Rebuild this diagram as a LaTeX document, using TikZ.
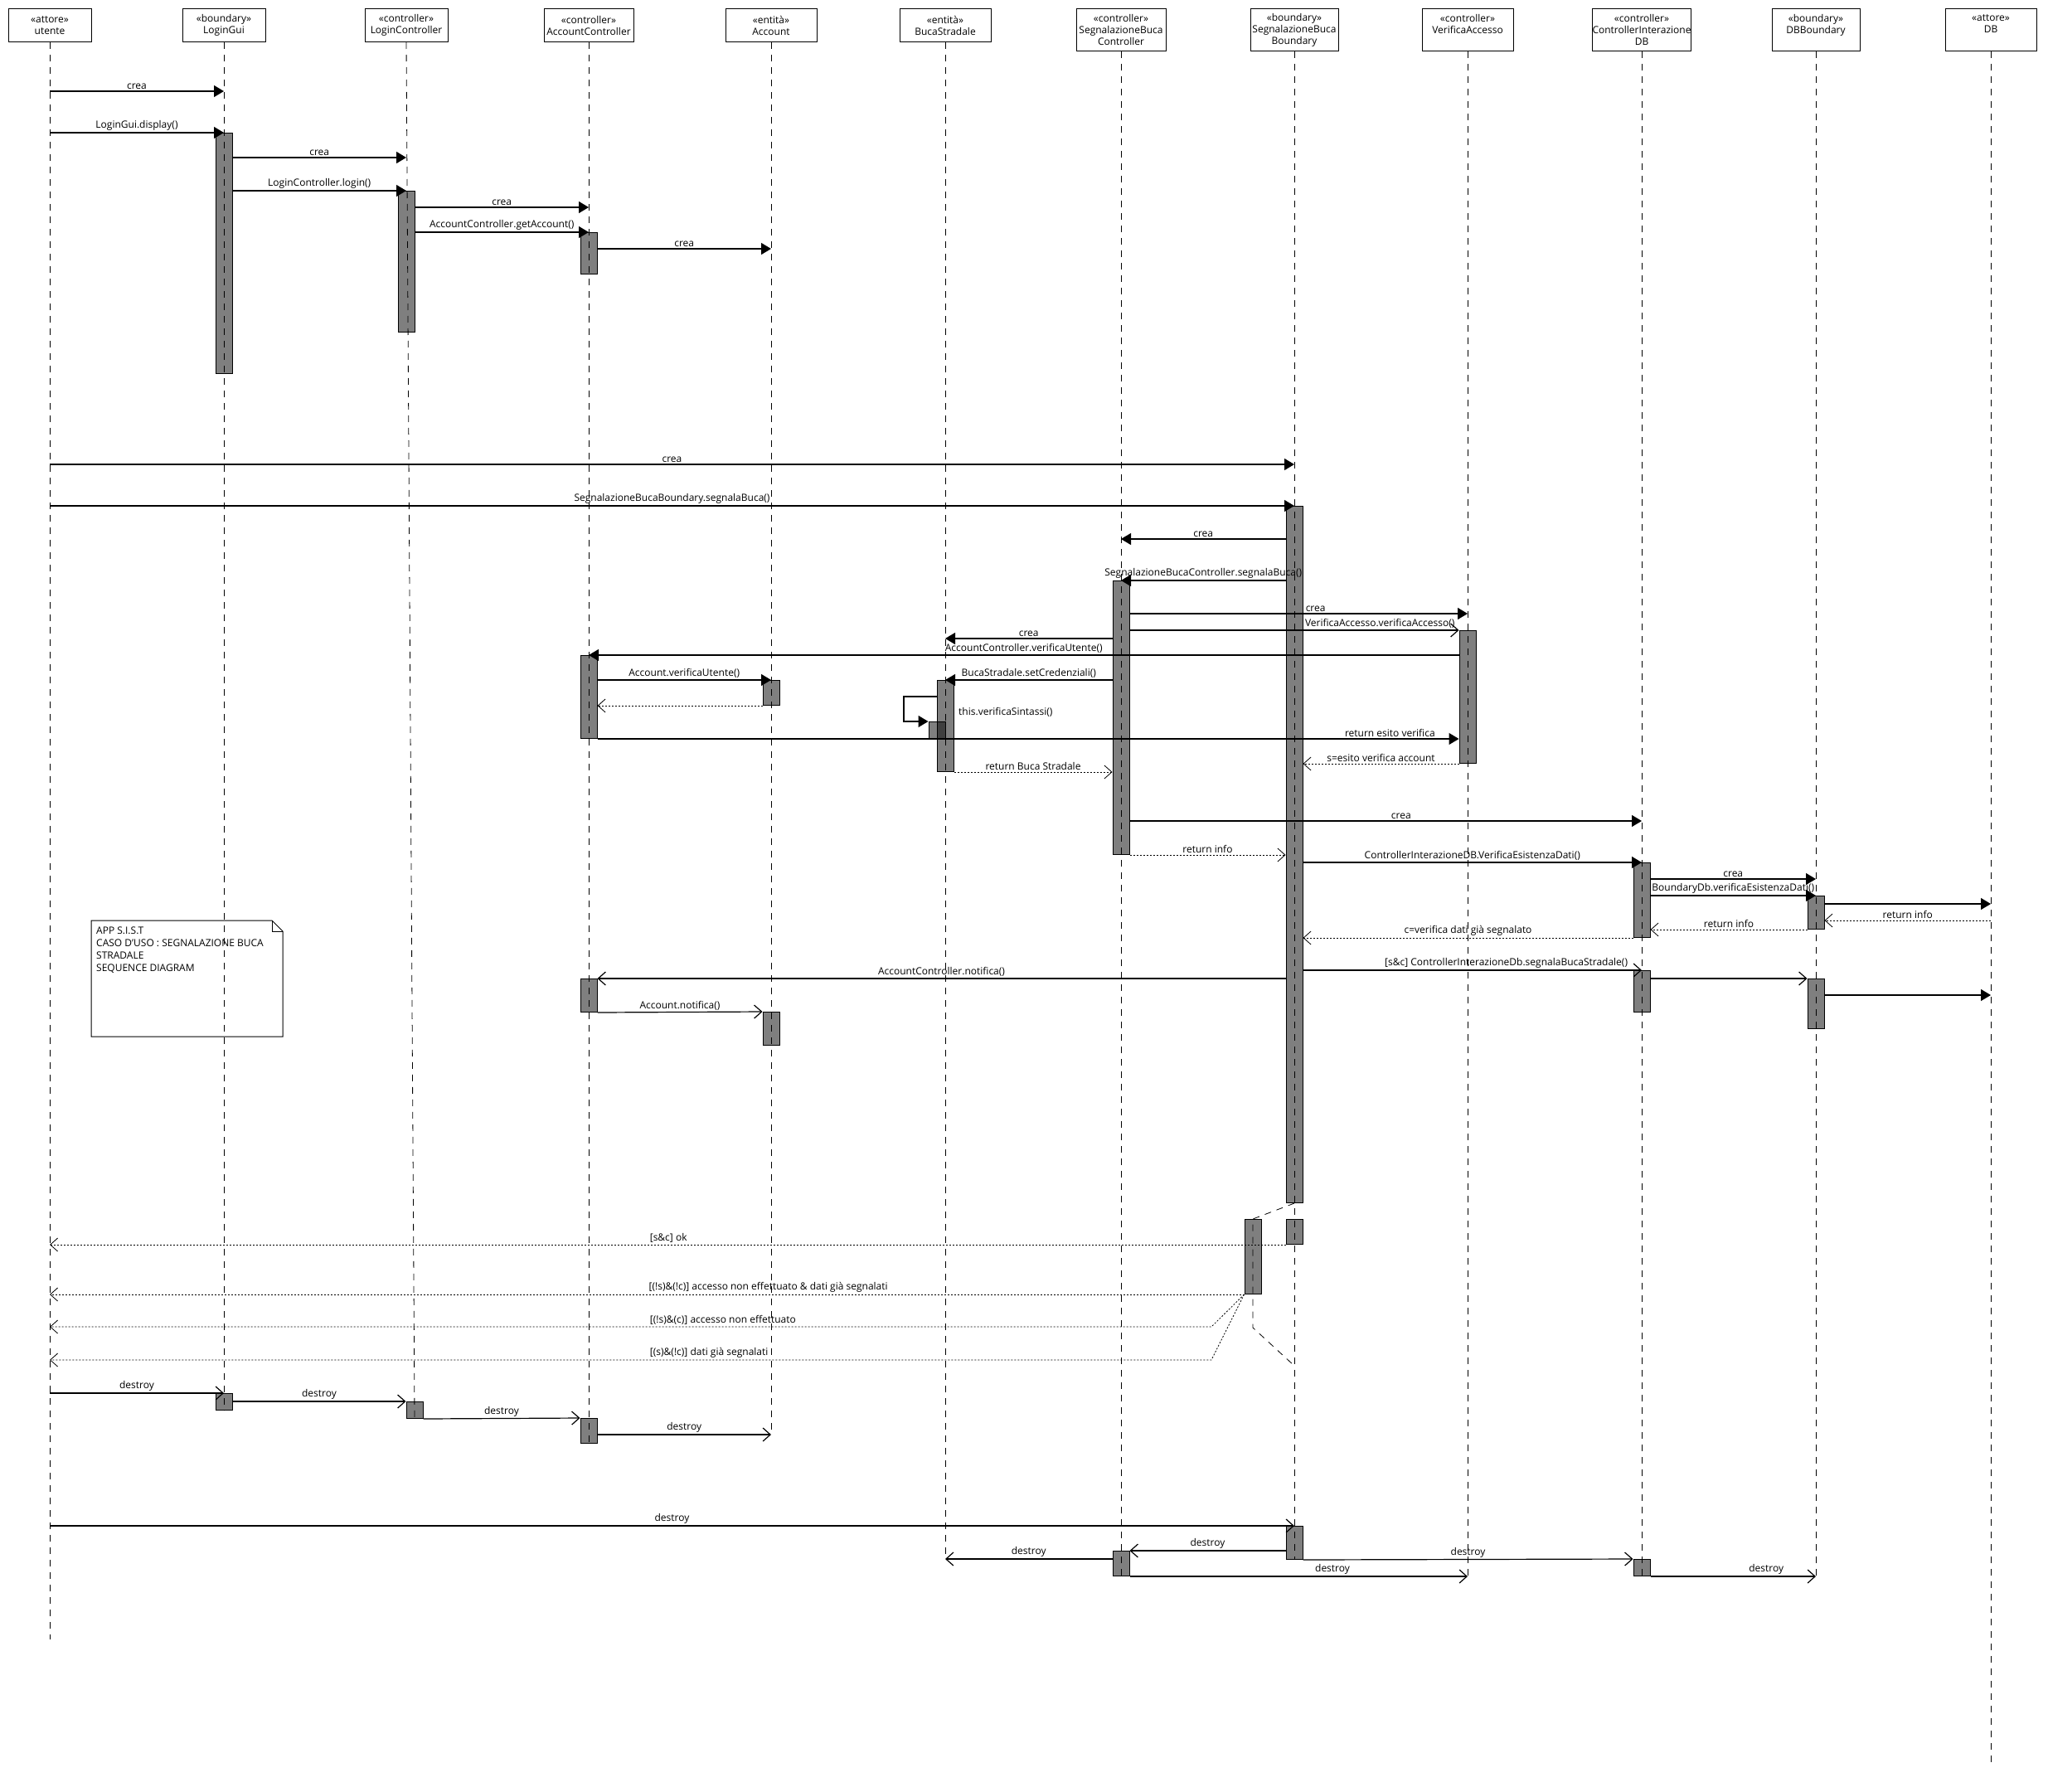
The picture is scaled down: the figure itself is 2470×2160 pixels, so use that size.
\documentclass[tikz,border=0pt]{standalone}
\usepackage{fontspec}
\setmainfont{Open Sans}
\usetikzlibrary{arrows.meta,positioning,backgrounds}
\tikzset{
  obj/.style={draw, line width=1pt, align=center, minimum width=100pt, inner xsep=0pt, anchor=north},
  life/.style={line width=0.8pt, dash pattern=on 8pt off 7pt},
  act/.style={draw, line width=1pt, fill=black, fill opacity=0.5, minimum width=20pt, inner sep=0pt, anchor=north},
  msg/.style={-{Triangle[length=12pt,width=14pt]}, line width=1.2pt},
  amsg/.style={-{Straight Barb[length=9pt,width=16pt]}, line width=1.2pt},
  ret/.style={-{Straight Barb[length=9pt,width=16pt]}, line width=0.8pt, dash pattern=on 2pt off 2pt},
  lbl/.style={above, inner sep=2pt},
  notetxt/.style={anchor=north west, align=left, inner sep=0pt, font=\fontsize{12}{15}\selectfont},
}

\begin{document}
\begin{tikzpicture}[x=1pt, y=-1pt, font=\fontsize{12}{14}\selectfont]
  \useasboundingbox (0,0) rectangle (2470,2160);

  % Oggetti
  \node[obj, minimum height=40pt] (utente) at (60,10) {«attore»\\utente};
  \node[obj, minimum height=40pt] (logingui) at (270,10) {«boundary»\\LoginGui};
  \node[obj, minimum height=40pt] (loginctrl) at (490,10) {«controller»\\LoginController};
  \node[obj, minimum height=40pt, minimum width=108pt] (accountctrl) at (710,10) {«controller»\\AccountController};
  \node[obj, minimum height=40pt, minimum width=110pt] (account) at (930,10) {«entità»\\Account};
  \node[obj, minimum height=40pt, minimum width=110pt] (buca) at (1140,10) {«entità»\\BucaStradale};
  \node[obj, minimum height=51pt, minimum width=108pt] (sbctrl) at (1352,10) {«controller»\\SegnalazioneBuca\\Controller};
  \node[obj, minimum height=51pt, minimum width=106pt] (sbbound) at (1561,10) {«boundary»\\SegnalazioneBuca\\Boundary};
  \node[obj, minimum height=51pt, minimum width=110pt] (verifica) at (1770,10) {«controller»\\VerificaAccesso\\~};
  \node[obj, minimum height=51pt, minimum width=118pt] (ctrldb) at (1980,10) {«controller»\\ControllerInterazione\\DB};
  \node[obj, minimum height=51pt, minimum width=106pt] (dbbound) at (2190,10) {«boundary»\\DBBoundary\\~};
  \node[obj, minimum height=51pt, minimum width=110pt] (db) at (2401,10) {«attore»\\DB\\~};

  % Attivazioni
  \node[act, minimum height=290pt] (lg1) at (logingui |- 0,160) {};
  \node[act, minimum height=170pt] (lc1) at (loginctrl |- 0,230) {};
  \node[act, minimum height=50pt] (ac1) at (accountctrl |- 0,280) {};
  \node[act, minimum height=840pt] (sb1) at (sbbound |- 0,610) {};
  \node[act, minimum height=330pt] (sc1) at (sbctrl |- 0,700) {};
  \node[act, minimum height=160pt] (va1) at (verifica |- 0,760) {};
  \node[act, minimum height=100pt] (ac2) at (accountctrl |- 0,790) {};
  \node[act, minimum height=30pt] (acc1) at (account |- 0,820) {};
  \node[act, minimum height=110pt] (bs1) at (buca |- 0,820) {};
  \node[act, minimum height=20pt] (bs2) at (1130,870) {};
  \node[act, minimum height=90pt] (cd1) at (ctrldb |- 0,1040) {};
  \node[act, minimum height=40pt] (dbb1) at (dbbound |- 0,1080) {};
  \node[act, minimum height=50pt] (cd2) at (ctrldb |- 0,1170) {};
  \node[act, minimum height=60pt] (dbb2) at (dbbound |- 0,1180) {};
  \node[act, minimum height=40pt] (ac3) at (accountctrl |- 0,1180) {};
  \node[act, minimum height=40pt] (acc2) at (account |- 0,1220) {};
  \node[act, minimum height=30pt] (sb2) at (sbbound |- 0,1470) {};
  \node[act, minimum height=90pt] (alt) at (1511,1470) {};
  \node[act, minimum height=20pt] (lg2) at (logingui |- 0,1680) {};
  \node[act, minimum height=20pt] (lc2) at (500,1690) {};
  \node[act, minimum height=30pt] (ac4) at (accountctrl |- 0,1710) {};
  \node[act, minimum height=40pt] (sb3) at (sbbound |- 0,1840) {};
  \node[act, minimum height=30pt] (sc2) at (sbctrl |- 0,1870) {};
  \node[act, minimum height=20pt] (cd3) at (ctrldb |- 0,1880) {};

  % Linee di vita
  \begin{scope}[on background layer]
    \draw[life] (utente.south) -- (utente |- 0,1977);
    \draw[life] (logingui.south) -- (lg2.south);
    \draw[life] (loginctrl.south) -- (lc2.south);
    \draw[life] (accountctrl.south) -- (ac4.south);
    \draw[life] (account.south) -- (account |- 0,1730);
    \draw[life] (buca.south) -- (buca |- 0,1880);
    \draw[life] (sbctrl.south) -- (sc2.south);
    \draw[life] (sbbound.south) -- (sb3.south);
    \draw[life] (verifica.south) -- (verifica |- 0,1900);
    \draw[life] (ctrldb.south) -- (cd3.south);
    \draw[life] (dbbound.south) -- (dbbound |- 0,1900);
    \draw[life] (db.south) -- (db |- 0,2130);
    \draw[life] (sb1.south) -- (alt.north) -- (alt.south) -- ++(0,40) -- (sbbound |- 0,1647);
  \end{scope}

  % Login
  \draw[msg] (utente |- 0,110) -- node[lbl] {crea} (logingui |- 0,110);
  \draw[msg] (utente |- lg1.north) -- node[lbl] {LoginGui.display()} (lg1.north);
  \draw[msg] (lg1.east |- 0,190) -- node[lbl] {crea} (loginctrl |- 0,190);
  \draw[msg] (lg1.east |- lc1.north) -- node[lbl] {LoginController.login()} (lc1.north);
  \draw[msg] (lc1.east |- 0,250) -- node[lbl] {crea} (accountctrl |- 0,250);
  \draw[msg] (lc1.east |- ac1.north) -- node[lbl] {AccountController.getAccount()} (ac1.north);
  \draw[msg] (ac1.east |- 0,300) -- node[lbl] {crea} (account |- 0,300);

  % Segnalazione
  \draw[msg] (utente |- 0,560) -- node[lbl] {crea} (sbbound |- 0,560);
  \draw[msg] (utente |- sb1.north) -- node[lbl] {SegnalazioneBucaBoundary.segnalaBuca()} (sb1.north);
  \draw[msg] (sb1.west |- 0,650) -- node[lbl] {crea} (sbctrl |- 0,650);
  \draw[msg] (sb1.west |- sc1.north) -- node[lbl] {SegnalazioneBucaController.segnalaBuca()} (sc1.north);
  \draw[msg] (sc1.east |- 0,740) -- node[lbl, pos=0.55] {crea} (verifica |- 0,740);
  \draw[amsg] (sc1.east |- va1.north) -- node[lbl, pos=0.76] {VerificaAccesso.verificaAccesso()} (va1.north west);
  \draw[msg] (sc1.west |- 0,770) -- node[lbl] {crea} (buca |- 0,770);
  \draw[msg] (va1.west |- ac2.north) -- node[lbl] {AccountController.verificaUtente()} (ac2.north);
  \draw[msg] (ac2.east |- acc1.north) -- node[lbl] {Account.verificaUtente()} (acc1.north);
  \draw[ret] (acc1.south west) -- (ac2.east |- acc1.south);
  \draw[msg] (sc1.west |- bs1.north) -- node[lbl] {BucaStradale.setCredenziali()} (bs1.north);
  \draw[msg] (bs1.west |- 0,840) -- (1090,840) -- (1090,870) -- (bs2.north west);
  \node[lbl, anchor=west] (sintassi) at (1154,859) {this.verificaSintassi()};
  \draw[msg] (ac2.south east) -- node[lbl, pos=0.92] {return esito verifica} (va1.west |- ac2.south);
  \draw[ret] (va1.south west) -- node[lbl] {s=esito verifica account} (sb1.east |- va1.south);
  \draw[ret] (bs1.south east) -- node[lbl] {return Buca Stradale} (sc1.west |- bs1.south);
  \draw[msg] (sc1.east |- 0,990) -- node[lbl, pos=0.53] {crea} (ctrldb |- 0,990);
  \draw[ret] (sc1.south east) -- node[lbl] {return info} (sb1.west |- sc1.south);
  \draw[msg] (sb1.east |- cd1.north) -- node[lbl] {ControllerInterazioneDB.VerificaEsistenzaDati()} (cd1.north);
  \draw[msg] (cd1.east |- 0,1060) -- node[lbl] {crea} (dbbound |- 0,1060);
  \draw[msg] (cd1.east |- dbb1.north) -- node[lbl] {BoundaryDb.verificaEsistenzaDati()} (dbb1.north);
  \draw[msg] (dbb1.east |- 0,1090) -- (db |- 0,1090);
  \draw[ret] (db |- 0,1110) -- node[lbl] {return info} (dbb1.east |- 0,1110);
  \draw[ret] (dbb1.south west) -- node[lbl] {return info} (cd1.east |- dbb1.south);
  \draw[ret] (cd1.south west) -- node[lbl] {c=verifica dati già segnalato} (sb1.east |- cd1.south);
  \draw[amsg] (sb1.east |- cd2.north) -- node[lbl, pos=0.6] {[s\&c] ControllerInterazioneDb.segnalaBucaStradale()} (cd2.north);
  \draw[amsg] (cd2.east |- dbb2.north) -- (dbb2.north west);
  \draw[msg] (dbb2.east |- 0,1200) -- (db |- 0,1200);
  \draw[amsg] (sb1.west |- ac3.north) -- node[lbl] {AccountController.notifica()} (ac3.north east);
  \draw[amsg] (ac3.south east) -- node[lbl] {Account.notifica()} (acc2.north west);

  % Esiti
  \draw[ret] (sb2.south west) -- node[lbl, anchor=south west, pos=0.516] {[s\&c] ok} (utente |- sb2.south);
  \draw[ret] (alt.south west) -- node[lbl, anchor=south west, pos=0.5] {[(!s)\&(!c)] accesso non effettuato \& dati già segnalati} (utente |- alt.south);
  \draw[ret] (alt.south west) -- (1461,1600) -- node[lbl, anchor=south west, pos=0.485] {[(!s)\&(c)] accesso non effettuato} (utente |- 0,1600);
  \draw[ret] (alt.south west) -- (1461,1640) -- node[lbl, anchor=south west, pos=0.485] {[(s)\&(!c)] dati già segnalati} (utente |- 0,1640);

  % Distruzione
  \draw[amsg] (utente |- lg2.north) -- node[lbl] {destroy} (lg2.north);
  \draw[amsg] (lg2.east |- lc2.north) -- node[lbl] {destroy} (lc2.north west);
  \draw[amsg] (lc2.south east) -- node[lbl] {destroy} (ac4.north west);
  \draw[amsg] (ac4.east |- 0,1730) -- node[lbl] {destroy} (account |- 0,1730);
  \draw[amsg] (utente |- sb3.north) -- node[lbl] {destroy} (sb3.north);
  \draw[amsg] (sb3.west |- sc2.north) -- node[lbl] {destroy} (sc2.north east);
  \draw[amsg] (sc2.west |- 0,1880) -- node[lbl] {destroy} (buca |- 0,1880);
  \draw[amsg] (sb3.south east) -- node[lbl] {destroy} (cd3.north west);
  \draw[amsg] (sc2.south east) -- node[lbl, pos=0.6] {destroy} (verifica |- sc2.south);
  \draw[amsg] (cd3.south east) -- node[lbl, pos=0.7] {destroy} (dbbound |- cd3.south);

  % Nota
  \node[notetxt] (nota) at (116,1118) {APP S.I.S.T\\CASO D'USO : SEGNALAZIONE BUCA\\STRADALE\\SEQUENCE DIAGRAM};
  \draw[line width=1pt] (110,1110) -- (328,1110) -- (341,1123) -- (341,1250) -- (110,1250) -- cycle;
  \draw[line width=0.8pt] (328,1110) -- (328,1123) -- (341,1123);
\end{tikzpicture}
\end{document}
